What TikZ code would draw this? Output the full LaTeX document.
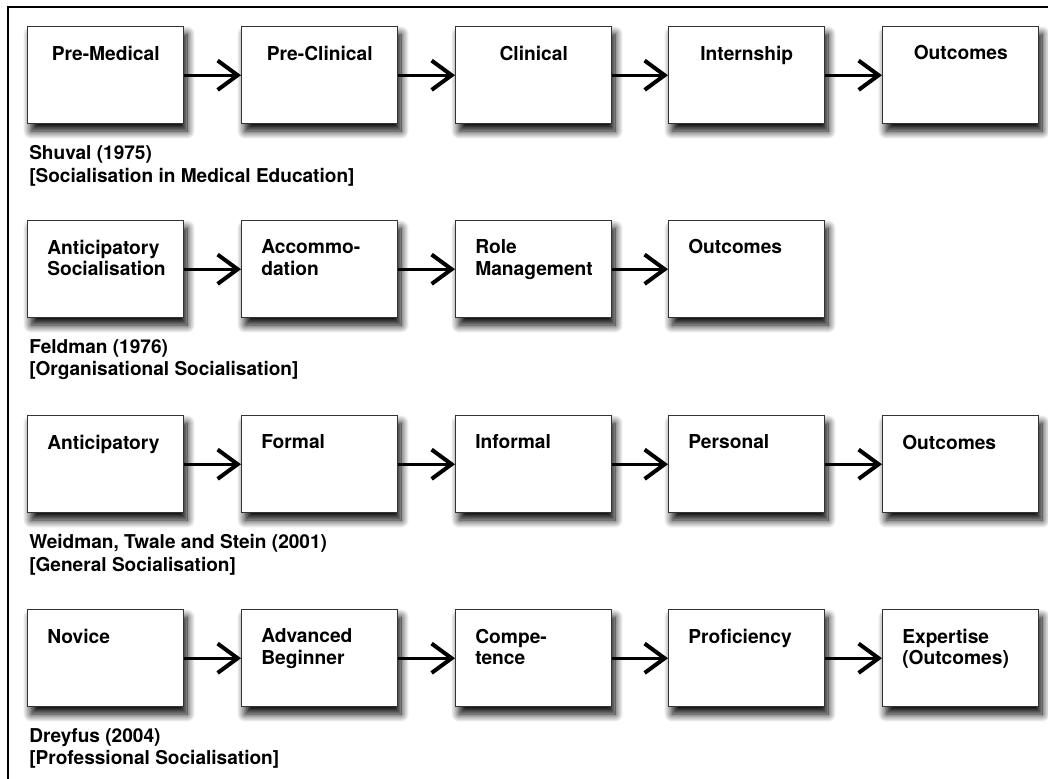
\documentclass[tikz,border=0pt]{standalone}
\usepackage{fontspec}
\setmainfont{TeX Gyre Heros}
\usetikzlibrary{arrows.meta,shadows.blur,calc}

\begin{document}
\begin{tikzpicture}[x=0.75pt,y=-0.75pt,
  stage/.style={draw=black!80, line width=1.1pt, fill=white,
    minimum width=117pt, minimum height=72.75pt, inner sep=0pt, anchor=north west,
    blur shadow={shadow xshift=2.5pt, shadow yshift=-5.5pt,
      shadow blur radius=6pt, shadow blur steps=12, shadow opacity=100}},
  stagetext/.style={font=\fontsize{14.4}{16.2}\selectfont\bfseries, inner sep=0pt, align=left},
  caption/.style={font=\fontsize{14.3}{17}\selectfont\bfseries, inner sep=0pt,
    align=left, anchor=north west},
  flow/.style={line width=2pt, -{Straight Barb[length=15pt,width=22pt,line width=3pt,sharp]}},
  frame/.style={line width=1.1pt}]

\useasboundingbox (0,0) rectangle (1048,778);

% outer frame
\coordinate (fbl) at (8,790);
\coordinate (ftl) at (8,7);
\coordinate (ftr) at (1060,7);
\draw[frame] (fbl) -- (ftl) -- (ftr);

% Shuval (1975)
\node[stage] (a1) at (27,26) {};
\node[stage] (a2) at (241,26) {};
\node[stage] (a3) at (455,26) {};
\node[stage] (a4) at (668,26) {};
\node[stage] (a5) at (882,26) {};
\node[stagetext, anchor=north] (ta1) at ($(a1.north)+(0,19.5)$) {Pre-Medical};
\node[stagetext, anchor=north] (ta2) at ($(a2.north)+(0,19.5)$) {Pre-Clinical};
\node[stagetext, anchor=north] (ta3) at ($(a3.north)+(0,19.5)$) {Clinical};
\node[stagetext, anchor=north] (ta4) at ($(a4.north)+(0,19.5)$) {Internship};
\node[stagetext, anchor=north] (ta5) at ($(a5.north)+(0,19.5)$) {Outcomes};
\draw[flow] (a1.east) -- (a2.west);
\draw[flow] (a2.east) -- (a3.west);
\draw[flow] (a3.east) -- (a4.west);
\draw[flow] (a4.east) -- (a5.west);
\node[caption] (ca) at ($(a1.south west)+(2,20.5)$) {Shuval (1975)\\{}[Socialisation in Medical Education]};

% Feldman (1976)
\node[stage] (b1) at (27,220) {};
\node[stage] (b2) at (241,220) {};
\node[stage] (b3) at (455,220) {};
\node[stage] (b4) at (668,220) {};
\node[stagetext, anchor=north west] (tb1) at ($(b1.north west)+(20,19.5)$) {Anticipatory\\Socialisation};
\node[stagetext, anchor=north west] (tb2) at ($(b2.north west)+(20,19.5)$) {Accommo-\\dation};
\node[stagetext, anchor=north west] (tb3) at ($(b3.north west)+(20,19.5)$) {Role\\Management};
\node[stagetext, anchor=north west] (tb4) at ($(b4.north west)+(20,19.5)$) {Outcomes};
\draw[flow] (b1.east) -- (b2.west);
\draw[flow] (b2.east) -- (b3.west);
\draw[flow] (b3.east) -- (b4.west);
\node[caption] (cb) at ($(b1.south west)+(2,20.5)$) {Feldman (1976)\\{}[Organisational Socialisation]};

% Weidman, Twale and Stein (2001)
\node[stage] (c1) at (27,415) {};
\node[stage] (c2) at (241,415) {};
\node[stage] (c3) at (455,415) {};
\node[stage] (c4) at (668,415) {};
\node[stage] (c5) at (882,415) {};
\node[stagetext, anchor=north west] (tc1) at ($(c1.north west)+(20,19.5)$) {Anticipatory};
\node[stagetext, anchor=north west] (tc2) at ($(c2.north west)+(20,19.5)$) {Formal};
\node[stagetext, anchor=north west] (tc3) at ($(c3.north west)+(20,19.5)$) {Informal};
\node[stagetext, anchor=north west] (tc4) at ($(c4.north west)+(20,19.5)$) {Personal};
\node[stagetext, anchor=north west] (tc5) at ($(c5.north west)+(20,19.5)$) {Outcomes};
\draw[flow] (c1.east) -- (c2.west);
\draw[flow] (c2.east) -- (c3.west);
\draw[flow] (c3.east) -- (c4.west);
\draw[flow] (c4.east) -- (c5.west);
\node[caption] (cc) at ($(c1.south west)+(2,20.5)$) {Weidman, Twale and Stein (2001)\\{}[General Socialisation]};

% Dreyfus (2004)
\node[stage] (d1) at (27,609) {};
\node[stage] (d2) at (241,609) {};
\node[stage] (d3) at (455,609) {};
\node[stage] (d4) at (668,609) {};
\node[stage] (d5) at (882,609) {};
\node[stagetext, anchor=north west] (td1) at ($(d1.north west)+(20,19.5)$) {Novice};
\node[stagetext, anchor=north west] (td2) at ($(d2.north west)+(20,19.5)$) {Advanced\\Beginner};
\node[stagetext, anchor=north west] (td3) at ($(d3.north west)+(20,19.5)$) {Compe-\\tence};
\node[stagetext, anchor=north west] (td4) at ($(d4.north west)+(20,19.5)$) {Proficiency};
\node[stagetext, anchor=north west] (td5) at ($(d5.north west)+(20,19.5)$) {Expertise\\(Outcomes)};
\draw[flow] (d1.east) -- (d2.west);
\draw[flow] (d2.east) -- (d3.west);
\draw[flow] (d3.east) -- (d4.west);
\draw[flow] (d4.east) -- (d5.west);
\node[caption] (cd) at ($(d1.south west)+(2,20.5)$) {Dreyfus (2004)\\{}[Professional Socialisation]};

\end{tikzpicture}
\end{document}
